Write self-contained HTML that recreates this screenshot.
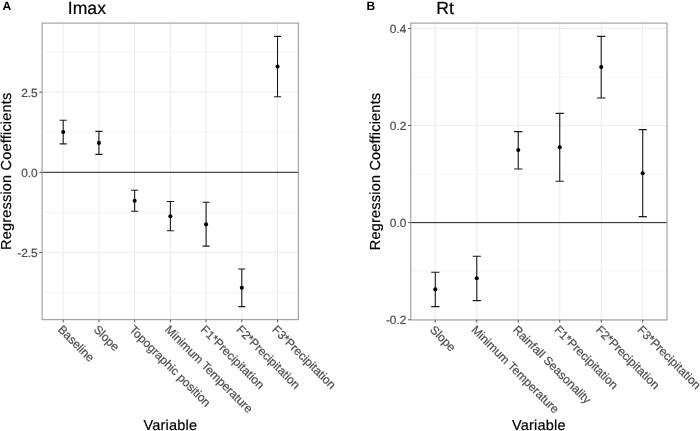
<!DOCTYPE html><html><head><meta charset="utf-8"><title>Regression Coefficients</title><style>html,body{margin:0;padding:0;background:#fff}body{width:700px;height:431px;overflow:hidden}svg{display:block}text{font-family:"Liberation Sans", Arial, Helvetica, sans-serif;text-rendering:geometricPrecision}</style></head><body>
<svg width="700" height="431" viewBox="0 0 700 431">
<rect width="700" height="431" fill="#fff"/>
<rect x="42.1" y="23.1" width="256.25" height="296.54999999999995" fill="#fff"/>
<line x1="42.1" x2="298.35" y1="52.075" y2="52.075" stroke="#ececec" stroke-width="0.6"/>
<line x1="42.1" x2="298.35" y1="132.22500000000002" y2="132.22500000000002" stroke="#ececec" stroke-width="0.6"/>
<line x1="42.1" x2="298.35" y1="212.375" y2="212.375" stroke="#ececec" stroke-width="0.6"/>
<line x1="42.1" x2="298.35" y1="292.52500000000003" y2="292.52500000000003" stroke="#ececec" stroke-width="0.6"/>
<line x1="42.1" x2="298.35" y1="92.15" y2="92.15" stroke="#ececec" stroke-width="1"/>
<line x1="42.1" x2="298.35" y1="252.45000000000002" y2="252.45000000000002" stroke="#ececec" stroke-width="1"/>
<line x1="63.2" x2="63.2" y1="23.1" y2="319.65" stroke="#ececec" stroke-width="1"/>
<line x1="98.92" x2="98.92" y1="23.1" y2="319.65" stroke="#ececec" stroke-width="1"/>
<line x1="134.64" x2="134.64" y1="23.1" y2="319.65" stroke="#ececec" stroke-width="1"/>
<line x1="170.36" x2="170.36" y1="23.1" y2="319.65" stroke="#ececec" stroke-width="1"/>
<line x1="206.07999999999998" x2="206.07999999999998" y1="23.1" y2="319.65" stroke="#ececec" stroke-width="1"/>
<line x1="241.8" x2="241.8" y1="23.1" y2="319.65" stroke="#ececec" stroke-width="1"/>
<line x1="277.52" x2="277.52" y1="23.1" y2="319.65" stroke="#ececec" stroke-width="1"/>
<line x1="42.1" x2="298.35" y1="172.3" y2="172.3" stroke="#1c1c1c" stroke-width="1"/>
<path d="M59.650000000000006 120.3H66.75M63.2 120.3V143.9M59.650000000000006 143.9H66.75" stroke="#1a1a1a" stroke-width="1.1" fill="none"/>
<circle cx="63.2" cy="132.0" r="2.05" fill="#000"/>
<path d="M95.37 131.4H102.47M98.92 131.4V154.4M95.37 154.4H102.47" stroke="#1a1a1a" stroke-width="1.1" fill="none"/>
<circle cx="98.92" cy="142.9" r="2.05" fill="#000"/>
<path d="M131.08999999999997 190.2H138.19M134.64 190.2V211.3M131.08999999999997 211.3H138.19" stroke="#1a1a1a" stroke-width="1.1" fill="none"/>
<circle cx="134.64" cy="200.8" r="2.05" fill="#000"/>
<path d="M166.81 201.5H173.91000000000003M170.36 201.5V230.7M166.81 230.7H173.91000000000003" stroke="#1a1a1a" stroke-width="1.1" fill="none"/>
<circle cx="170.36" cy="216.3" r="2.05" fill="#000"/>
<path d="M202.52999999999997 202.2H209.63M206.07999999999998 202.2V246.1M202.52999999999997 246.1H209.63" stroke="#1a1a1a" stroke-width="1.1" fill="none"/>
<circle cx="206.07999999999998" cy="224.4" r="2.05" fill="#000"/>
<path d="M238.25 269.0H245.35000000000002M241.8 269.0V306.6M238.25 306.6H245.35000000000002" stroke="#1a1a1a" stroke-width="1.1" fill="none"/>
<circle cx="241.8" cy="287.8" r="2.05" fill="#000"/>
<path d="M273.96999999999997 36.4H281.07M277.52 36.4V96.8M273.96999999999997 96.8H281.07" stroke="#1a1a1a" stroke-width="1.1" fill="none"/>
<circle cx="277.52" cy="66.6" r="2.05" fill="#000"/>
<rect x="42.1" y="23.1" width="256.25" height="296.54999999999995" fill="none" stroke="#9c9c9c" stroke-width="1.1"/>
<line x1="39.4" x2="42.1" y1="92.15" y2="92.15" stroke="#555555" stroke-width="1"/>
<text x="37.7" y="96.60000000000001" text-anchor="end" font-size="11.9" fill="#4d4d4d" stroke="#4d4d4d" stroke-width="0.2">2.5</text>
<line x1="39.4" x2="42.1" y1="172.3" y2="172.3" stroke="#555555" stroke-width="1"/>
<text x="37.7" y="176.75" text-anchor="end" font-size="11.9" fill="#4d4d4d" stroke="#4d4d4d" stroke-width="0.2">0.0</text>
<line x1="39.4" x2="42.1" y1="252.45000000000002" y2="252.45000000000002" stroke="#555555" stroke-width="1"/>
<text x="37.7" y="256.90000000000003" text-anchor="end" font-size="11.9" fill="#4d4d4d" stroke="#4d4d4d" stroke-width="0.2">-2.5</text>
<line x1="63.2" x2="63.2" y1="319.65" y2="322.34999999999997" stroke="#555555" stroke-width="1"/>
<text transform="translate(63.2,324.25) rotate(45)" x="0" y="8.5" font-size="11.9" fill="#4d4d4d" stroke="#4d4d4d" stroke-width="0.2">Baseline</text>
<line x1="98.92" x2="98.92" y1="319.65" y2="322.34999999999997" stroke="#555555" stroke-width="1"/>
<text transform="translate(98.92,324.25) rotate(45)" x="0" y="8.5" font-size="11.9" fill="#4d4d4d" stroke="#4d4d4d" stroke-width="0.2">Slope</text>
<line x1="134.64" x2="134.64" y1="319.65" y2="322.34999999999997" stroke="#555555" stroke-width="1"/>
<text transform="translate(134.64,324.25) rotate(45)" x="0" y="8.5" font-size="11.9" fill="#4d4d4d" stroke="#4d4d4d" stroke-width="0.2">Topographic position</text>
<line x1="170.36" x2="170.36" y1="319.65" y2="322.34999999999997" stroke="#555555" stroke-width="1"/>
<text transform="translate(170.36,324.25) rotate(45)" x="0" y="8.5" font-size="11.9" fill="#4d4d4d" stroke="#4d4d4d" stroke-width="0.2">Minimum Temperature</text>
<line x1="206.07999999999998" x2="206.07999999999998" y1="319.65" y2="322.34999999999997" stroke="#555555" stroke-width="1"/>
<text transform="translate(206.07999999999998,324.25) rotate(45)" x="0" y="8.5" font-size="11.9" fill="#4d4d4d" stroke="#4d4d4d" stroke-width="0.2">F1*Precipitation</text>
<line x1="241.8" x2="241.8" y1="319.65" y2="322.34999999999997" stroke="#555555" stroke-width="1"/>
<text transform="translate(241.8,324.25) rotate(45)" x="0" y="8.5" font-size="11.9" fill="#4d4d4d" stroke="#4d4d4d" stroke-width="0.2">F2*Precipitation</text>
<line x1="277.52" x2="277.52" y1="319.65" y2="322.34999999999997" stroke="#555555" stroke-width="1"/>
<text transform="translate(277.52,324.25) rotate(45)" x="0" y="8.5" font-size="11.9" fill="#4d4d4d" stroke="#4d4d4d" stroke-width="0.2">F3*Precipitation</text>
<text x="67.8" y="13.8" font-size="17.6" fill="#000" stroke="#000" stroke-width="0.2">Imax</text>
<text x="2.4" y="9.9" font-size="12" font-weight="bold" fill="#000">A</text>
<text transform="translate(11.2,171.275) rotate(-90)" text-anchor="middle" letter-spacing="0.2" font-size="14.5" fill="#000" stroke="#000" stroke-width="0.2">Regression Coefficients</text>
<text x="170.4" y="430.2" text-anchor="middle" letter-spacing="0.22" font-size="14.5" fill="#000" stroke="#000" stroke-width="0.2">Variable</text>
<rect x="410.8" y="23.1" width="256.2" height="296.84999999999997" fill="#fff"/>
<line x1="410.8" x2="667.0" y1="77.0" y2="77.0" stroke="#ececec" stroke-width="0.6"/>
<line x1="410.8" x2="667.0" y1="174.1" y2="174.1" stroke="#ececec" stroke-width="0.6"/>
<line x1="410.8" x2="667.0" y1="271.2" y2="271.2" stroke="#ececec" stroke-width="0.6"/>
<line x1="410.8" x2="667.0" y1="28.44999999999999" y2="28.44999999999999" stroke="#ececec" stroke-width="1"/>
<line x1="410.8" x2="667.0" y1="125.55" y2="125.55" stroke="#ececec" stroke-width="1"/>
<line x1="410.8" x2="667.0" y1="319.75" y2="319.75" stroke="#ececec" stroke-width="1"/>
<line x1="435.3" x2="435.3" y1="23.1" y2="319.95" stroke="#ececec" stroke-width="1"/>
<line x1="476.78000000000003" x2="476.78000000000003" y1="23.1" y2="319.95" stroke="#ececec" stroke-width="1"/>
<line x1="518.26" x2="518.26" y1="23.1" y2="319.95" stroke="#ececec" stroke-width="1"/>
<line x1="559.74" x2="559.74" y1="23.1" y2="319.95" stroke="#ececec" stroke-width="1"/>
<line x1="601.22" x2="601.22" y1="23.1" y2="319.95" stroke="#ececec" stroke-width="1"/>
<line x1="642.7" x2="642.7" y1="23.1" y2="319.95" stroke="#ececec" stroke-width="1"/>
<line x1="410.8" x2="667.0" y1="222.65" y2="222.65" stroke="#1c1c1c" stroke-width="1"/>
<path d="M431.15000000000003 272.2H439.45M435.3 272.2V306.6M431.15000000000003 306.6H439.45" stroke="#1a1a1a" stroke-width="1.1" fill="none"/>
<circle cx="435.3" cy="289.4" r="2.05" fill="#000"/>
<path d="M472.63000000000005 256.2H480.93M476.78000000000003 256.2V300.6M472.63000000000005 300.6H480.93" stroke="#1a1a1a" stroke-width="1.1" fill="none"/>
<circle cx="476.78000000000003" cy="278.2" r="2.05" fill="#000"/>
<path d="M514.11 131.6H522.41M518.26 131.6V169.0M514.11 169.0H522.41" stroke="#1a1a1a" stroke-width="1.1" fill="none"/>
<circle cx="518.26" cy="150.1" r="2.05" fill="#000"/>
<path d="M555.59 113.4H563.89M559.74 113.4V181.2M555.59 181.2H563.89" stroke="#1a1a1a" stroke-width="1.1" fill="none"/>
<circle cx="559.74" cy="147.2" r="2.05" fill="#000"/>
<path d="M597.07 36.4H605.37M601.22 36.4V98.0M597.07 98.0H605.37" stroke="#1a1a1a" stroke-width="1.1" fill="none"/>
<circle cx="601.22" cy="67.0" r="2.05" fill="#000"/>
<path d="M638.5500000000001 129.6H646.85M642.7 129.6V216.6M638.5500000000001 216.6H646.85" stroke="#1a1a1a" stroke-width="1.1" fill="none"/>
<circle cx="642.7" cy="173.2" r="2.05" fill="#000"/>
<rect x="410.8" y="23.1" width="256.2" height="296.84999999999997" fill="none" stroke="#9c9c9c" stroke-width="1.1"/>
<line x1="408.1" x2="410.8" y1="28.44999999999999" y2="28.44999999999999" stroke="#555555" stroke-width="1"/>
<text x="406.40000000000003" y="32.89999999999999" text-anchor="end" font-size="11.9" fill="#4d4d4d" stroke="#4d4d4d" stroke-width="0.2">0.4</text>
<line x1="408.1" x2="410.8" y1="125.55" y2="125.55" stroke="#555555" stroke-width="1"/>
<text x="406.40000000000003" y="130.0" text-anchor="end" font-size="11.9" fill="#4d4d4d" stroke="#4d4d4d" stroke-width="0.2">0.2</text>
<line x1="408.1" x2="410.8" y1="222.65" y2="222.65" stroke="#555555" stroke-width="1"/>
<text x="406.40000000000003" y="227.1" text-anchor="end" font-size="11.9" fill="#4d4d4d" stroke="#4d4d4d" stroke-width="0.2">0.0</text>
<line x1="408.1" x2="410.8" y1="319.75" y2="319.75" stroke="#555555" stroke-width="1"/>
<text x="406.40000000000003" y="324.2" text-anchor="end" font-size="11.9" fill="#4d4d4d" stroke="#4d4d4d" stroke-width="0.2">-0.2</text>
<line x1="435.3" x2="435.3" y1="319.95" y2="322.65" stroke="#555555" stroke-width="1"/>
<text transform="translate(435.3,324.55) rotate(45)" x="0" y="8.5" font-size="11.9" fill="#4d4d4d" stroke="#4d4d4d" stroke-width="0.2">Slope</text>
<line x1="476.78000000000003" x2="476.78000000000003" y1="319.95" y2="322.65" stroke="#555555" stroke-width="1"/>
<text transform="translate(476.78000000000003,324.55) rotate(45)" x="0" y="8.5" font-size="11.9" fill="#4d4d4d" stroke="#4d4d4d" stroke-width="0.2">Minimum Temperature</text>
<line x1="518.26" x2="518.26" y1="319.95" y2="322.65" stroke="#555555" stroke-width="1"/>
<text transform="translate(518.26,324.55) rotate(45)" x="0" y="8.5" font-size="11.9" fill="#4d4d4d" stroke="#4d4d4d" stroke-width="0.2">Rainfall Seasonality</text>
<line x1="559.74" x2="559.74" y1="319.95" y2="322.65" stroke="#555555" stroke-width="1"/>
<text transform="translate(559.74,324.55) rotate(45)" x="0" y="8.5" font-size="11.9" fill="#4d4d4d" stroke="#4d4d4d" stroke-width="0.2">F1*Precipitation</text>
<line x1="601.22" x2="601.22" y1="319.95" y2="322.65" stroke="#555555" stroke-width="1"/>
<text transform="translate(601.22,324.55) rotate(45)" x="0" y="8.5" font-size="11.9" fill="#4d4d4d" stroke="#4d4d4d" stroke-width="0.2">F2*Precipitation</text>
<line x1="642.7" x2="642.7" y1="319.95" y2="322.65" stroke="#555555" stroke-width="1"/>
<text transform="translate(642.7,324.55) rotate(45)" x="0" y="8.5" font-size="11.9" fill="#4d4d4d" stroke="#4d4d4d" stroke-width="0.2">F3*Precipitation</text>
<text x="436.2" y="13.8" font-size="17.6" fill="#000" stroke="#000" stroke-width="0.2">Rt</text>
<text x="366.5" y="9.9" font-size="12" font-weight="bold" fill="#000">B</text>
<text transform="translate(380.3,171.425) rotate(-90)" text-anchor="middle" letter-spacing="0.2" font-size="14.5" fill="#000" stroke="#000" stroke-width="0.2">Regression Coefficients</text>
<text x="538.9" y="430.2" text-anchor="middle" letter-spacing="0.22" font-size="14.5" fill="#000" stroke="#000" stroke-width="0.2">Variable</text>
</svg></body></html>
